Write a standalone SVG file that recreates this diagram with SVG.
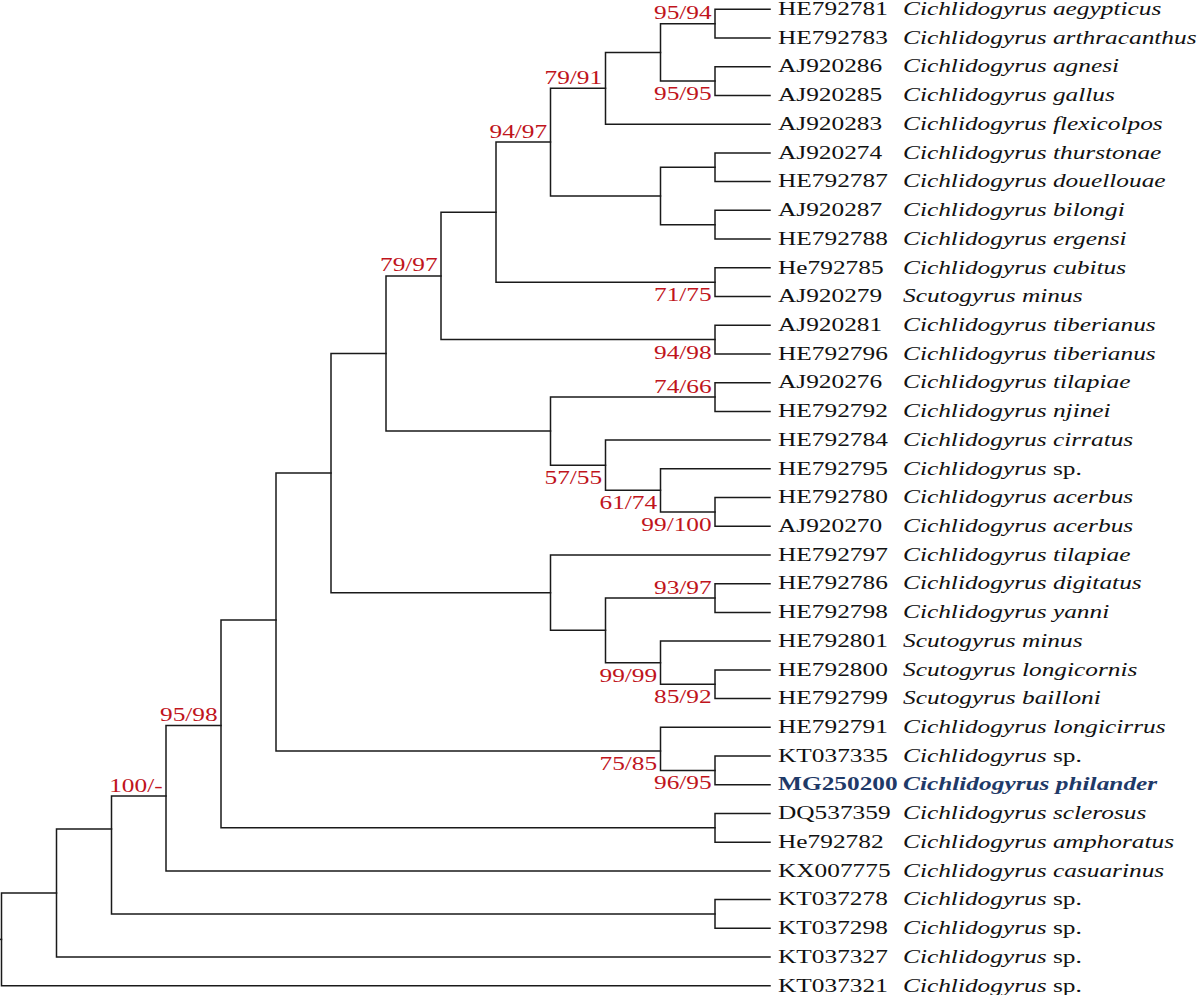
<svg xmlns="http://www.w3.org/2000/svg" width="1200" height="995" viewBox="0 0 1200 995">
<style>
.br{fill:none;stroke:#1a1a1a;stroke-width:1.5;stroke-linecap:square}
text{font-family:"Liberation Serif","Times New Roman",serif;font-size:19.5px}
.id{fill:#111}
.sp{fill:#111;font-style:italic}
.up{font-style:normal}
.lab{fill:#c0141c;text-anchor:end}
.hl{fill:#1f3a68;font-weight:bold}
</style>
<rect width="1200" height="995" fill="#fff"/>
<g id="connectors">
<path class="br" d="M770,9.3 H715 V38 H770"/>
<path class="br" d="M770,66.7 H715 V95.5 H770"/>
<path class="br" d="M715,23.7 H660.5 V81.1 H715"/>
<path class="br" d="M660.5,52.4 H605.5 V124.2 H770"/>
<path class="br" d="M770,152.9 H715 V181.6 H770"/>
<path class="br" d="M770,210.3 H715 V239.1 H770"/>
<path class="br" d="M715,167.3 H660.5 V224.7 H715"/>
<path class="br" d="M605.5,88.3 H550.5 V196 H660.5"/>
<path class="br" d="M770,267.8 H715 V296.5 H770"/>
<path class="br" d="M550.5,142.1 H496 V282.2 H715"/>
<path class="br" d="M770,325.2 H715 V353.9 H770"/>
<path class="br" d="M496,212.2 H441 V339.6 H715"/>
<path class="br" d="M770,382.7 H715 V411.4 H770"/>
<path class="br" d="M770,497.5 H715 V526.3 H770"/>
<path class="br" d="M770,468.8 H660.5 V511.9 H715"/>
<path class="br" d="M770,440.1 H605.5 V490.3 H660.5"/>
<path class="br" d="M715,397 H550.5 V465.2 H605.5"/>
<path class="br" d="M441,275.9 H386 V431.1 H550.5"/>
<path class="br" d="M770,583.7 H715 V612.4 H770"/>
<path class="br" d="M770,669.9 H715 V698.6 H770"/>
<path class="br" d="M770,641.1 H660.5 V684.2 H715"/>
<path class="br" d="M715,598 H605.5 V662.7 H660.5"/>
<path class="br" d="M770,555 H550.5 V630.3 H605.5"/>
<path class="br" d="M386,353.5 H331 V592.7 H550.5"/>
<path class="br" d="M770,756 H715 V784.7 H770"/>
<path class="br" d="M770,727.3 H660.5 V770.4 H715"/>
<path class="br" d="M331,473.1 H276 V751 H660.5"/>
<path class="br" d="M770,813.5 H715 V842.2 H770"/>
<path class="br" d="M276,620 H221 V827.8 H715"/>
<path class="br" d="M221,725.5 H166 V870.9 H770"/>
<path class="br" d="M770,899.6 H715 V928.3 H770"/>
<path class="br" d="M166,796 H111.5 V914 H715"/>
<path class="br" d="M111.5,829 H56.5 V957 H770"/>
<path class="br" d="M56.5,893 H1.5 V985.8 H770"/>
<path class="br" d="M0,939.4 H1.5"/>
</g>
<g id="support">
<g id="s1"><text class="lab" transform="translate(711.7,19.2) scale(1.3,1)">95/94</text></g>
<g id="s2"><text class="lab" transform="translate(711.7,100.1) scale(1.3,1)">95/95</text></g>
<g id="s3"><text class="lab" transform="translate(602.2,83.8) scale(1.3,1)">79/91</text></g>
<g id="s4"><text class="lab" transform="translate(547.2,137.6) scale(1.3,1)">94/97</text></g>
<g id="s5"><text class="lab" transform="translate(437.7,271.4) scale(1.3,1)">79/97</text></g>
<g id="s6"><text class="lab" transform="translate(711.7,301.2) scale(1.3,1)">71/75</text></g>
<g id="s7"><text class="lab" transform="translate(711.7,358.6) scale(1.3,1)">94/98</text></g>
<g id="s8"><text class="lab" transform="translate(711.7,392.5) scale(1.3,1)">74/66</text></g>
<g id="s9"><text class="lab" transform="translate(602.2,484.2) scale(1.3,1)">57/55</text></g>
<g id="s10"><text class="lab" transform="translate(657.2,509.3) scale(1.3,1)">61/74</text></g>
<g id="s11"><text class="lab" transform="translate(711.7,530.9) scale(1.3,1)">99/100</text></g>
<g id="s12"><text class="lab" transform="translate(711.7,593.5) scale(1.3,1)">93/97</text></g>
<g id="s13"><text class="lab" transform="translate(657.2,681.7) scale(1.3,1)">99/99</text></g>
<g id="s14"><text class="lab" transform="translate(711.7,703.2) scale(1.3,1)">85/92</text></g>
<g id="s15"><text class="lab" transform="translate(657.2,770) scale(1.3,1)">75/85</text></g>
<g id="s16"><text class="lab" transform="translate(711.7,789.4) scale(1.3,1)">96/95</text></g>
<g id="s17"><text class="lab" transform="translate(217.7,721) scale(1.3,1)">95/98</text></g>
<g id="s18"><text class="lab" transform="translate(162.7,791.5) scale(1.3,1)">100/-</text></g>
</g>
<g id="leaves">
<g id="t0"><text class="id" transform="translate(778,15) scale(1.3,1)">HE792781</text><text class="sp" transform="translate(903,15) scale(1.3,1)">Cichlidogyrus aegypticus</text></g>
<g id="t1"><text class="id" transform="translate(778,43.7) scale(1.3,1)">HE792783</text><text class="sp" transform="translate(903,43.7) scale(1.3,1)">Cichlidogyrus arthracanthus</text></g>
<g id="t2"><text class="id" transform="translate(778,72.4) scale(1.3,1)">AJ920286</text><text class="sp" transform="translate(903,72.4) scale(1.3,1)">Cichlidogyrus agnesi</text></g>
<g id="t3"><text class="id" transform="translate(778,101.2) scale(1.3,1)">AJ920285</text><text class="sp" transform="translate(903,101.2) scale(1.3,1)">Cichlidogyrus gallus</text></g>
<g id="t4"><text class="id" transform="translate(778,129.9) scale(1.3,1)">AJ920283</text><text class="sp" transform="translate(903,129.9) scale(1.3,1)">Cichlidogyrus flexicolpos</text></g>
<g id="t5"><text class="id" transform="translate(778,158.6) scale(1.3,1)">AJ920274</text><text class="sp" transform="translate(903,158.6) scale(1.3,1)">Cichlidogyrus thurstonae</text></g>
<g id="t6"><text class="id" transform="translate(778,187.3) scale(1.3,1)">HE792787</text><text class="sp" transform="translate(903,187.3) scale(1.3,1)">Cichlidogyrus douellouae</text></g>
<g id="t7"><text class="id" transform="translate(778,216) scale(1.3,1)">AJ920287</text><text class="sp" transform="translate(903,216) scale(1.3,1)">Cichlidogyrus bilongi</text></g>
<g id="t8"><text class="id" transform="translate(778,244.8) scale(1.3,1)">HE792788</text><text class="sp" transform="translate(903,244.8) scale(1.3,1)">Cichlidogyrus ergensi</text></g>
<g id="t9"><text class="id" transform="translate(778,273.5) scale(1.3,1)">He792785</text><text class="sp" transform="translate(903,273.5) scale(1.3,1)">Cichlidogyrus cubitus</text></g>
<g id="t10"><text class="id" transform="translate(778,302.2) scale(1.3,1)">AJ920279</text><text class="sp" transform="translate(903,302.2) scale(1.3,1)">Scutogyrus minus</text></g>
<g id="t11"><text class="id" transform="translate(778,330.9) scale(1.3,1)">AJ920281</text><text class="sp" transform="translate(903,330.9) scale(1.3,1)">Cichlidogyrus tiberianus</text></g>
<g id="t12"><text class="id" transform="translate(778,359.6) scale(1.3,1)">HE792796</text><text class="sp" transform="translate(903,359.6) scale(1.3,1)">Cichlidogyrus tiberianus</text></g>
<g id="t13"><text class="id" transform="translate(778,388.4) scale(1.3,1)">AJ920276</text><text class="sp" transform="translate(903,388.4) scale(1.3,1)">Cichlidogyrus tilapiae</text></g>
<g id="t14"><text class="id" transform="translate(778,417.1) scale(1.3,1)">HE792792</text><text class="sp" transform="translate(903,417.1) scale(1.3,1)">Cichlidogyrus njinei</text></g>
<g id="t15"><text class="id" transform="translate(778,445.8) scale(1.3,1)">HE792784</text><text class="sp" transform="translate(903,445.8) scale(1.3,1)">Cichlidogyrus cirratus</text></g>
<g id="t16"><text class="id" transform="translate(778,474.5) scale(1.3,1)">HE792795</text><text class="sp" transform="translate(903,474.5) scale(1.3,1)">Cichlidogyrus <tspan class="up">sp.</tspan></text></g>
<g id="t17"><text class="id" transform="translate(778,503.2) scale(1.3,1)">HE792780</text><text class="sp" transform="translate(903,503.2) scale(1.3,1)">Cichlidogyrus acerbus</text></g>
<g id="t18"><text class="id" transform="translate(778,532) scale(1.3,1)">AJ920270</text><text class="sp" transform="translate(903,532) scale(1.3,1)">Cichlidogyrus acerbus</text></g>
<g id="t19"><text class="id" transform="translate(778,560.7) scale(1.3,1)">HE792797</text><text class="sp" transform="translate(903,560.7) scale(1.3,1)">Cichlidogyrus tilapiae</text></g>
<g id="t20"><text class="id" transform="translate(778,589.4) scale(1.3,1)">HE792786</text><text class="sp" transform="translate(903,589.4) scale(1.3,1)">Cichlidogyrus digitatus</text></g>
<g id="t21"><text class="id" transform="translate(778,618.1) scale(1.3,1)">HE792798</text><text class="sp" transform="translate(903,618.1) scale(1.3,1)">Cichlidogyrus yanni</text></g>
<g id="t22"><text class="id" transform="translate(778,646.8) scale(1.3,1)">HE792801</text><text class="sp" transform="translate(903,646.8) scale(1.3,1)">Scutogyrus minus</text></g>
<g id="t23"><text class="id" transform="translate(778,675.6) scale(1.3,1)">HE792800</text><text class="sp" transform="translate(903,675.6) scale(1.3,1)">Scutogyrus longicornis</text></g>
<g id="t24"><text class="id" transform="translate(778,704.3) scale(1.3,1)">HE792799</text><text class="sp" transform="translate(903,704.3) scale(1.3,1)">Scutogyrus bailloni</text></g>
<g id="t25"><text class="id" transform="translate(778,733) scale(1.3,1)">HE792791</text><text class="sp" transform="translate(903,733) scale(1.3,1)">Cichlidogyrus longicirrus</text></g>
<g id="t26"><text class="id" transform="translate(778,761.7) scale(1.3,1)">KT037335</text><text class="sp" transform="translate(903,761.7) scale(1.3,1)">Cichlidogyrus <tspan class="up">sp.</tspan></text></g>
<g id="t27"><text class="id hl" transform="translate(778,790.4) scale(1.3,1)">MG250200</text><text class="sp hl" transform="translate(903,790.4) scale(1.3,1)">Cichlidogyrus philander</text></g>
<g id="t28"><text class="id" transform="translate(778,819.2) scale(1.3,1)">DQ537359</text><text class="sp" transform="translate(903,819.2) scale(1.3,1)">Cichlidogyrus sclerosus</text></g>
<g id="t29"><text class="id" transform="translate(778,847.9) scale(1.3,1)">He792782</text><text class="sp" transform="translate(903,847.9) scale(1.3,1)">Cichlidogyrus amphoratus</text></g>
<g id="t30"><text class="id" transform="translate(778,876.6) scale(1.3,1)">KX007775</text><text class="sp" transform="translate(903,876.6) scale(1.3,1)">Cichlidogyrus casuarinus</text></g>
<g id="t31"><text class="id" transform="translate(778,905.3) scale(1.3,1)">KT037278</text><text class="sp" transform="translate(903,905.3) scale(1.3,1)">Cichlidogyrus <tspan class="up">sp.</tspan></text></g>
<g id="t32"><text class="id" transform="translate(778,934) scale(1.3,1)">KT037298</text><text class="sp" transform="translate(903,934) scale(1.3,1)">Cichlidogyrus <tspan class="up">sp.</tspan></text></g>
<g id="t33"><text class="id" transform="translate(778,962.7) scale(1.3,1)">KT037327</text><text class="sp" transform="translate(903,962.7) scale(1.3,1)">Cichlidogyrus <tspan class="up">sp.</tspan></text></g>
<g id="t34"><text class="id" transform="translate(778,991.5) scale(1.3,1)">KT037321</text><text class="sp" transform="translate(903,991.5) scale(1.3,1)">Cichlidogyrus <tspan class="up">sp.</tspan></text></g>
</g>
</svg>
